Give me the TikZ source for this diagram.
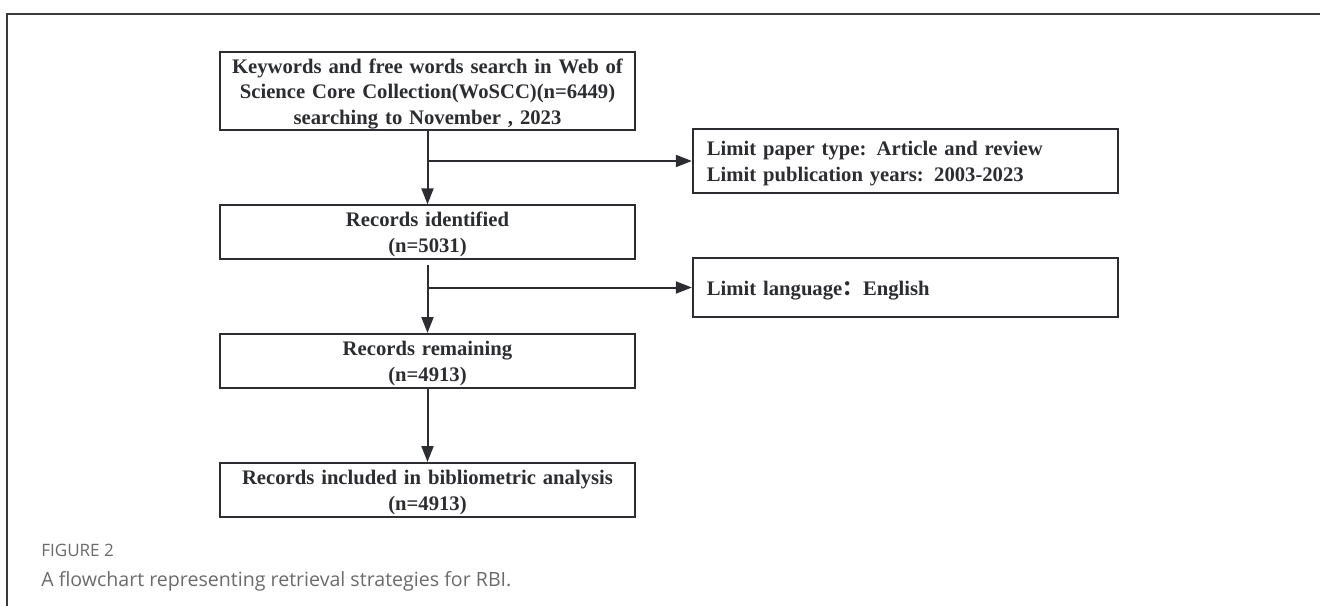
\documentclass[tikz,border=0pt]{standalone}
\usepackage{fontspec}
\setmainfont{Liberation Serif}
\newfontfamily\capfont{Open Sans}
\newfontfamily\cjk{Noto Sans CJK SC}
\usepackage{xcolor}
\usetikzlibrary{arrows.meta,positioning}
\definecolor{ink}{HTML}{2B2D31}
\definecolor{framegray}{HTML}{3A3A3A}
\definecolor{capgray}{HTML}{6B6B6B}
\tikzset{
  stepbox/.style={draw=ink,fill=white,line width=1.5pt,align=center,
                  inner sep=0pt,text=ink,minimum width=311pt,text width=311pt,
                  font=\fontsize{15.5}{19.5}\selectfont\bfseries,
                  execute at begin node={\rule{0pt}{15pt}}},
  sidebox/.style={stepbox,minimum width=319pt,text width=298pt,align=left},
  flowarr/.style={-{Triangle[length=12pt,width=9pt]},line width=1.5pt,
                  draw=ink},
  captext/.style={anchor=base west,inner sep=0pt,text=capgray}
}

\begin{document}
\begin{tikzpicture}[x=0.75pt,y=-0.75pt]
    \path[use as bounding box] (0,0) rectangle (1320,606);
    \draw[framegray,line width=1.3pt] (7,606) -- (7,14) -- (1320,14);
    \node[stepbox,minimum height=58.5pt,font=\fontsize{15.5}{19}\selectfont\bfseries,
          execute at begin node={\rule{0pt}{11pt}}] (search) at (427.5,91)
      {Keywords and free words search in Web of\\
       Science Core Collection(WoSCC)(n=6449)\\
       searching to November , 2023};
    \node[stepbox,minimum height=40pt] (ident) at (427.5,232)
      {Records identified\\(n=5031)};
    \node[stepbox,minimum height=40.5pt] (remain) at (427.5,361)
      {Records remaining\\(n=4913)};
    \node[stepbox,minimum height=40.5pt] (incl) at (427.5,490)
      {Records included in bibliometric analysis\\(n=4913)};
    \node[sidebox,minimum height=48pt] (ptype) at (905.5,161)
      {Limit paper type: Article and review\\
       Limit publication years: 2003-2023};
    \node[sidebox,minimum height=44.25pt] (lang) at (905.5,287.5)
      {Limit language{\cjk ：}English};
    \draw[flowarr] (search) -- (ident);
    \draw[flowarr,shorten <=4pt] (ident) -- (remain);
    \draw[flowarr] (remain) -- (incl);
    \draw[flowarr] (search.south |- ptype.west) -- (ptype);
    \draw[flowarr] (ident.south |- lang.west) -- (lang);
    \node[captext,font=\capfont\fontsize{12.8}{15}\selectfont] (fignum)
      at (41,556) {FIGURE 2};
    \node[captext,font=\capfont\fontsize{14.7}{17}\selectfont] (figcap)
      at (41,586) {A flowchart representing retrieval strategies for RBI.};
  \end{tikzpicture}
\end{document}
